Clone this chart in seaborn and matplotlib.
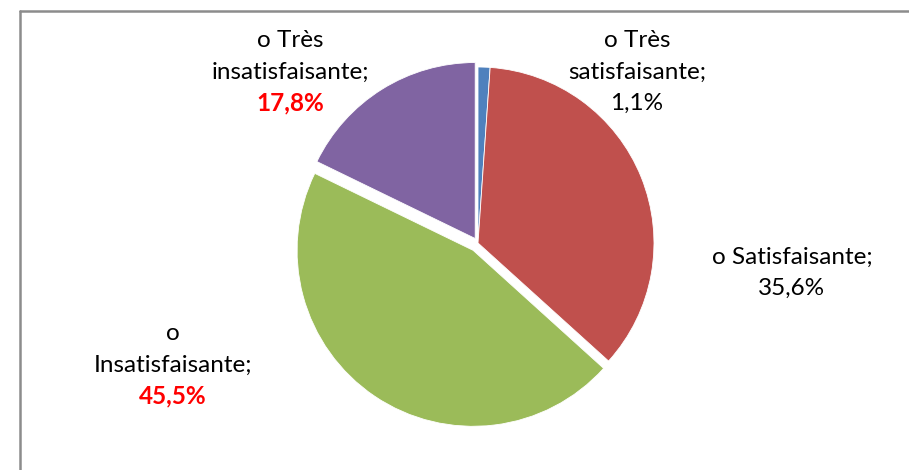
import matplotlib
matplotlib.use("Agg")
import matplotlib.pyplot as plt
from matplotlib.lines import Line2D
import seaborn as sns

# ---- data ----
categories = ["o Très\nsatisfaisante;", "o Satisfaisante;", "o\nInsatisfaisante;", "o Très\ninsatisfaisante;"]
values = [1.1, 35.6, 45.5, 17.8]
pct_labels = ["1,1%", "35,6%", "45,5%", "17,8%"]

# ---- style ----
colors = ["#4F81BD", "#C0504D", "#9BBB59", "#8064A2"]
explode = [0.0, 0.0, 0.05, 0.03]
highlight = [False, False, True, True]
label_pos = [(0.903, 0.972), (1.784, -0.170), (-1.733, -0.693), (-1.068, 0.972)]

sns.set_theme(style="white")
plt.rcParams["font.family"] = ["Lato", "DejaVu Sans"]

W, H, dpi = 909, 470, 100
fig = plt.figure(figsize=(W / dpi, H / dpi), dpi=dpi)
ax = fig.add_axes([0, 0, 1, 1])
cx, cy, R = 478, 227, 176

ax.pie(values, colors=colors, explode=explode, startangle=90, counterclock=False,
       radius=1.0, center=(0, 0), wedgeprops=dict(linewidth=0.6, edgecolor="white"))
ax.set_xlim(-cx / R, (W - cx) / R)
ax.set_ylim(-cy / R, (H - cy) / R)
ax.set_aspect("auto")
ax.axis("off")

fs = 17.5
line = 31 / R
for cat, pct, (x, y), hl in zip(categories, pct_labels, label_pos, highlight):
    lines = cat.split("\n")
    n = len(lines) + 1
    top = y + (n - 1) / 2 * line
    for i, t in enumerate(lines):
        ax.text(x, top - i * line, t, ha="center", va="center", fontsize=fs, color="black")
    ax.text(x, top - len(lines) * line, pct, ha="center", va="center", fontsize=fs,
            color="#FF0000" if hl else "black", fontweight="bold" if hl else "normal")

# frame lines (top and left)
fig.add_artist(Line2D([20 / W, 1], [1 - 11 / H, 1 - 11 / H], transform=fig.transFigure,
                      color="#8C8C8C", linewidth=1.8))
fig.add_artist(Line2D([20 / W, 20 / W], [0, 1 - 11 / H], transform=fig.transFigure,
                      color="#8C8C8C", linewidth=1.8))

fig.savefig("out.png", dpi=dpi)
